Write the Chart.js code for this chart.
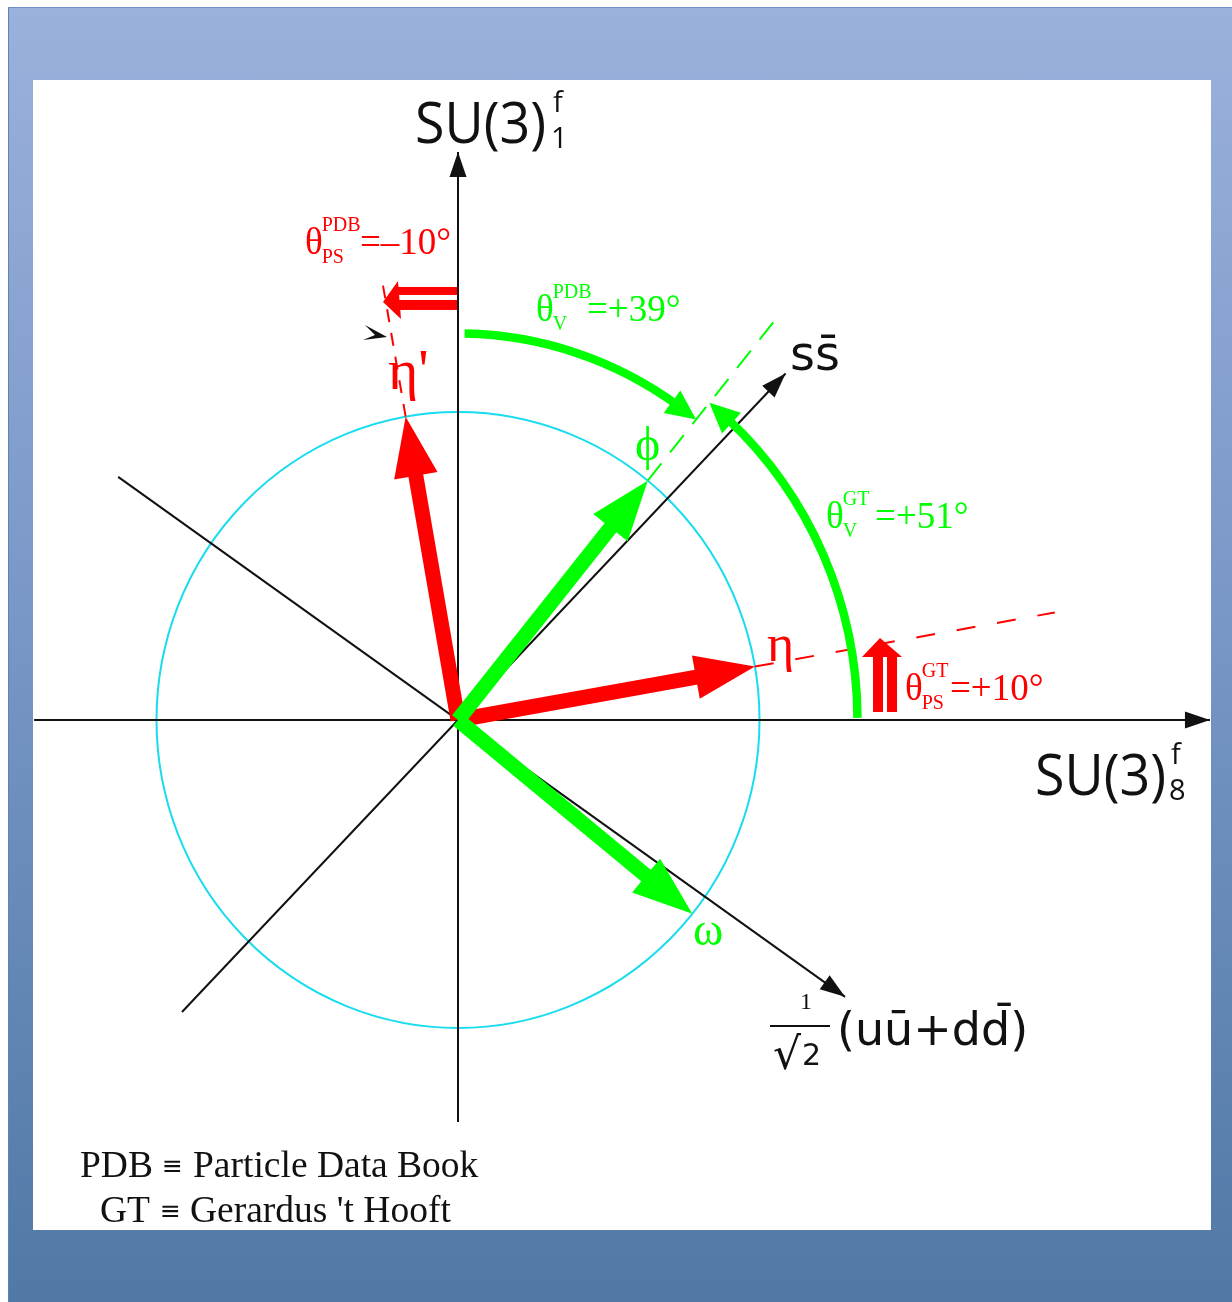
<!DOCTYPE html>
<html lang="en">
<head>
<meta charset="utf-8">
<title>Pseudoscalar and vector meson mixing</title>
<script src="https://cdn.jsdelivr.net/npm/chart.js@4.4.1/dist/chart.umd.min.js"></script>
<style>
  html, body { margin: 0; padding: 0; background: #ffffff; }
  body { position: relative; width: 1232px; height: 1302px; overflow: hidden; }
  #frame { position: absolute; left: 8px; top: 7px; width: 1224px; height: 1295px;
           background: linear-gradient(to bottom, #9ab1db 0%, #7896c6 48%, #5079a6 100%);
           border-left: 1px solid #5d83bd; border-top: 1px solid #7192c8; box-sizing: border-box; }
  #panel { position: absolute; left: 33px; top: 80px; width: 1178px; height: 1150px; background: #ffffff; }
  #diagram { position: absolute; left: 0; top: 0; }
</style>
</head>
<body>
<div id="frame"></div>
<div id="panel"></div>
<canvas id="diagram" width="1232" height="1302"></canvas>
<script>
// ---- values ---------------------------------------------------------------
// Flavour axes: direction in degrees from the SU(3)_8 axis, extent in units of the circle radius
const axisNames  = ['SU(3)8', 'SU(3)1', 'ss̄', '(uū+dd̄)/√2'];
const axisAngles = [0, 90, 46, -35];
const axisStart  = [-1.406, -1.305, -1.318, -1.376];
const axisEnd    = [2.494, 1.844, 1.564, 1.567];

// Mixing angles in degrees
const mixingNames  = ['θPS PDB', 'θV PDB', 'θV GT', 'θPS GT'];
const mixingValues = [-10, 39, 51, 10];

// Physical mesons, unit-length states in the flavour plane
const mesonNames   = ['η', "η'", 'ϕ', 'ω'];
const mesonLengths = [1, 1, 1, 1];

// Dashed continuations of the η, η' and ϕ directions
const extensionNames = ['η', "η'", 'ϕ'];
const extensionEnds  = [2.01, 1.46, 1.69];

const unitCircleRadius = 1;

// Legend of abbreviations
const legendAbbrev  = ['PDB', 'GT'];
const legendMeaning = ['Particle Data Book', "Gerardus 't Hooft"];

// ---- derived directions -----------------------------------------------------
const [psPDB, vPDB, vGT, psGT] = mixingValues;
// η from the octet axis, η' from the singlet axis, ϕ/ω rotated by θV
const mesonAngles = [psGT, 90 - psPDB, vGT, vGT - 90];

// ---- styling and layout -----------------------------------------------------
const STYLE = {
  red: '#ff0000', green: '#00ff00', cyan: '#19dcef', ink: '#111111',
  serif: '"Liberation Serif", "Times New Roman", serif',
  sans: '"DejaVu Sans", sans-serif',
  axisFont: '"Open Sans", "DejaVu Sans", sans-serif'
};
const PX = { originX: 458, originY: 720, unitX: 301.5, unitY: 308, width: 1232, height: 1302 };

const mesonColors = [STYLE.red, STYLE.red, STYLE.green, STYLE.green];
const extensionColors = [STYLE.red, STYLE.red, STYLE.green];
const extensionDash = [[19, 22], [13, 11], [22, 14]];

// rotation arcs: θV(PDB) measured from the singlet axis, θV(GT) from the octet axis
const arcs = [
  { from: 89, to: 90 - vPDB, r: 1.255 },
  { from: 0.3, to: vGT, r: 1.325 }
];

const mixingLayout = [
  { at: { x: -0.5075, y: 1.5130 }, sup: 'PDB', sub: 'PS', restDx: 55, color: STYLE.red },
  { at: { x: 0.2587, y: 1.2955 }, sup: 'PDB', sub: 'V', restDx: 51, color: STYLE.green },
  { at: { x: 1.2206, y: 0.6234 }, sup: 'GT', sub: 'V', restDx: 49, color: STYLE.green },
  { at: { x: 1.4826, y: 0.0649 }, sup: 'GT', sub: 'PS', restDx: 45, color: STYLE.red }
];
const mesonLabelAt = [
  { x: 1.0249, y: 0.1916 }, { x: -0.2322, y: 1.0747 }, { x: 0.5871, y: 0.8442 }, { x: 0.7794, y: -0.7305 }
];
const mesonLabelSize = [52, 58, 48, 46];
const legendAt = [{ x: -1.2537, y: -1.4838 }, { x: -1.1874, y: -1.6299 }];
const legendGap = [[82, 113], [60, 90]];

// ---- helpers ----------------------------------------------------------------
function polar(r, deg) {
  const a = deg * Math.PI / 180;
  return { x: r * Math.cos(a), y: r * Math.sin(a) };
}
function at(chart, pt) {
  return { x: chart.scales.x.getPixelForValue(pt.x), y: chart.scales.y.getPixelForValue(pt.y) };
}
function fillPoly(ctx, pts, color) {
  ctx.beginPath();
  ctx.moveTo(pts[0][0], pts[0][1]);
  for (let i = 1; i < pts.length; i++) ctx.lineTo(pts[i][0], pts[i][1]);
  ctx.closePath();
  ctx.fillStyle = color;
  ctx.fill();
}
function arrowHead(ctx, tip, from, len, halfW, color) {
  const dx = tip.x - from.x, dy = tip.y - from.y, L = Math.hypot(dx, dy);
  const ux = dx / L, uy = dy / L;
  const bx = tip.x - ux * len, by = tip.y - uy * len;
  fillPoly(ctx, [[tip.x, tip.y], [bx - uy * halfW, by + ux * halfW], [bx + uy * halfW, by - ux * halfW]], color);
}
function text(ctx, s, x, y, font, color, opts) {
  opts = opts || {};
  ctx.save();
  ctx.font = font;
  ctx.fillStyle = color;
  ctx.textBaseline = 'alphabetic';
  ctx.textAlign = opts.align || 'left';
  ctx.translate(x, y);
  if (opts.sx) ctx.scale(opts.sx, 1);
  ctx.fillText(s, 0, 0);
  const w = ctx.measureText(s).width * (opts.sx || 1);
  ctx.restore();
  return w;
}
function signed(v) {
  return '=' + (v > 0 ? '+' : v < 0 ? '\u2013' : '') + Math.abs(v) + '\u00b0';
}

// ---- datasets (straight segments) ------------------------------------------
const shaftSets = mesonNames.map((name, i) => ({
  label: name,
  data: [{ x: 0, y: 0 }, polar(mesonLengths[i] * 0.85, mesonAngles[i])],
  borderColor: mesonColors[i], borderWidth: 15, borderCapStyle: 'butt'
}));
const extensionSets = extensionNames.map((name, i) => {
  const m = mesonNames.indexOf(name);
  return {
    label: name + ' direction',
    data: [polar(mesonLengths[m], mesonAngles[m]), polar(extensionEnds[i], mesonAngles[m])],
    borderColor: extensionColors[i], borderWidth: 2, borderDash: extensionDash[i]
  };
});
const axisSets = axisNames.map((name, i) => ({
  label: name,
  data: [polar(axisStart[i], axisAngles[i]), polar(axisEnd[i], axisAngles[i])],
  borderColor: STYLE.ink, borderWidth: 2
}));
// the first dataset is painted last: green vectors over red, vectors over dashes, dashes over axes
const datasets = [shaftSets[2], shaftSets[3], shaftSets[0], shaftSets[1], ...extensionSets, ...axisSets]
  .map(d => Object.assign({ showLine: true, pointRadius: 0, fill: false, tension: 0 }, d));

// ---- curves, arrowheads and text ---------------------------------------------
const mixingDrawing = {
  id: 'mixingDrawing',
  beforeDatasetsDraw(chart) {
    const ctx = chart.ctx;
    const O = at(chart, { x: 0, y: 0 });
    const rx = at(chart, { x: unitCircleRadius, y: 0 }).x - O.x;
    const ry = O.y - at(chart, { x: 0, y: unitCircleRadius }).y;
    ctx.save();
    ctx.strokeStyle = STYLE.cyan;
    ctx.lineWidth = 2;
    ctx.beginPath();
    ctx.ellipse(O.x, O.y, rx, ry, 0, 0, Math.PI * 2);
    ctx.stroke();
    ctx.restore();
  },
  afterDatasetsDraw(chart) {
    const ctx = chart.ctx;
    const O = at(chart, { x: 0, y: 0 });
    ctx.save();

    // axis arrowheads
    axisAngles.forEach((a, i) => arrowHead(ctx, at(chart, polar(axisEnd[i], a)), O, 25, 8.5, STYLE.ink));

    // meson arrowheads
    mesonAngles.forEach((a, i) => arrowHead(ctx, at(chart, polar(mesonLengths[i], a)), O, 60, 22, mesonColors[i]));

    // rotation arcs with their heads
    arcs.forEach(arc => {
      const dir = arc.to > arc.from ? 1 : -1;
      const rx = at(chart, { x: arc.r, y: 0 }).x - O.x;
      const ry = O.y - at(chart, { x: 0, y: arc.r }).y;
      const stop = arc.to - dir * 3.5;
      ctx.beginPath();
      ctx.ellipse(O.x, O.y, rx, ry, 0, -arc.from * Math.PI / 180, -stop * Math.PI / 180, dir > 0);
      ctx.strokeStyle = STYLE.green;
      ctx.lineWidth = 8.5;
      ctx.lineCap = 'butt';
      ctx.stroke();
      const tip = at(chart, polar(arc.r, arc.to));
      const back = at(chart, polar(arc.r, arc.to - dir * 6));
      arrowHead(ctx, tip, back, 30, 14, STYLE.green);
    });

    // θPS(PDB): double arrow turning away from the singlet axis
    const a1 = at(chart, { x: 0, y: 1.367 });
    ctx.fillStyle = STYLE.red;
    ctx.fillRect(a1.x - 62, a1.y - 12, 61, 8);
    ctx.fillRect(a1.x - 62, a1.y + 1, 61, 10);
    fillPoly(ctx, [[a1.x - 75, a1.y + 3], [a1.x - 60, a1.y - 18], [a1.x - 57, a1.y + 20]], STYLE.red);

    // θPS(GT): double arrow rising from the octet axis
    const a2 = at(chart, { x: 1.4163, y: 0.026 });
    ctx.fillStyle = STYLE.red;
    ctx.fillRect(a2.x - 12, a2.y - 56, 10, 56);
    ctx.fillRect(a2.x + 2, a2.y - 56, 10, 56);
    fillPoly(ctx, [[a2.x - 5, a2.y - 74], [a2.x - 23, a2.y - 55], [a2.x + 17, a2.y - 55]], STYLE.red);

    // small black marker head
    const k = at(chart, { x: -0.2355, y: 1.2435 });
    fillPoly(ctx, [[k.x - 22, k.y - 12], [k.x, k.y], [k.x - 24, k.y + 3], [k.x - 12, k.y - 2]], STYLE.ink);

    // axis labels
    const su1 = at(chart, { x: -0.1426, y: 1.8734 });
    text(ctx, 'SU(3)', su1.x, su1.y, '56px ' + STYLE.axisFont, STYLE.ink, { sx: 0.96 });
    text(ctx, 'f', su1.x + 138, su1.y - 31, '29px ' + STYLE.axisFont, STYLE.ink);
    text(ctx, '1', su1.x + 136, su1.y + 5, '29px ' + STYLE.axisFont, STYLE.ink);

    const su8 = at(chart, { x: 1.9138, y: -0.2435 });
    text(ctx, 'SU(3)', su8.x, su8.y, '56px ' + STYLE.axisFont, STYLE.ink, { sx: 0.96 });
    text(ctx, 'f', su8.x + 136, su8.y - 31, '29px ' + STYLE.axisFont, STYLE.ink);
    text(ctx, '8', su8.x + 134, su8.y + 5, '29px ' + STYLE.axisFont, STYLE.ink);

    const ss = at(chart, { x: 1.1012, y: 1.1364 });
    text(ctx, 'ss\u0304', ss.x, ss.y, '48px ' + STYLE.sans, STYLE.ink);

    const fr = at(chart, { x: 1.0348, y: -0.9935 });
    ctx.fillStyle = STYLE.ink;
    ctx.fillRect(fr.x, fr.y - 1, 60, 2);
    text(ctx, '1', fr.x + 36, fr.y - 17, '24px ' + STYLE.serif, STYLE.ink, { align: 'center' });
    text(ctx, '\u221a', fr.x + 3, fr.y + 43, '44px ' + STYLE.sans, STYLE.ink);
    text(ctx, '2', fr.x + 32, fr.y + 39, '30px ' + STYLE.sans, STYLE.ink);
    text(ctx, '(u\u016b+dd\u0304)', fr.x + 67, fr.y + 19, '46px ' + STYLE.sans, STYLE.ink);

    // mixing angle labels
    mixingLayout.forEach((m, i) => {
      const p = at(chart, m.at);
      const w0 = text(ctx, '\u03b8', p.x, p.y, '37px ' + STYLE.serif, m.color);
      text(ctx, m.sup, p.x + w0 - 1, p.y - 23, '20px ' + STYLE.serif, m.color);
      text(ctx, m.sub, p.x + w0 - 1, p.y + 9, '20px ' + STYLE.serif, m.color);
      text(ctx, signed(mixingValues[i]), p.x + m.restDx, p.y, '37px ' + STYLE.serif, m.color);
    });

    // meson labels
    mesonNames.forEach((n, i) => {
      const p = at(chart, mesonLabelAt[i]);
      text(ctx, n, p.x, p.y, mesonLabelSize[i] + 'px ' + STYLE.serif, mesonColors[i]);
    });

    // abbreviations
    legendAbbrev.forEach((abbr, i) => {
      const p = at(chart, legendAt[i]);
      text(ctx, abbr, p.x, p.y, '37.5px ' + STYLE.serif, STYLE.ink);
      text(ctx, '\u2261', p.x + legendGap[i][0], p.y - 3, '25px ' + STYLE.sans, STYLE.ink);
      text(ctx, legendMeaning[i], p.x + legendGap[i][1], p.y, '37.5px ' + STYLE.serif, STYLE.ink);
    });

    ctx.restore();
  }
};

new Chart(document.getElementById('diagram'), {
  type: 'scatter',
  data: { datasets },
  options: {
    responsive: false,
    animation: false,
    devicePixelRatio: 1,
    events: [],
    layout: { padding: 0 },
    elements: { point: { radius: 0 }, line: { tension: 0 } },
    plugins: { legend: { display: false }, tooltip: { enabled: false } },
    scales: {
      x: { type: 'linear', display: false, min: -PX.originX / PX.unitX, max: (PX.width - PX.originX) / PX.unitX },
      y: { type: 'linear', display: false, min: -(PX.height - PX.originY) / PX.unitY, max: PX.originY / PX.unitY }
    }
  },
  plugins: [mixingDrawing]
});
</script>
</body>
</html>
